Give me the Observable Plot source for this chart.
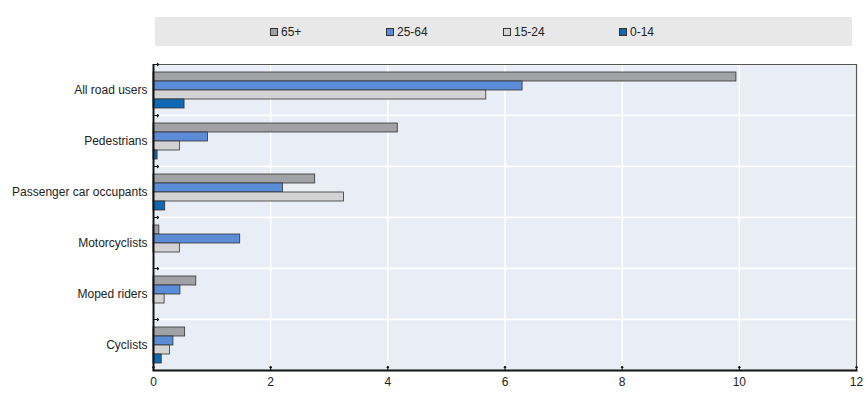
<!DOCTYPE html>
<html>
<head>
<meta charset="utf-8">
<script src="https://cdn.jsdelivr.net/npm/d3@7"></script>
<script src="https://cdn.jsdelivr.net/npm/@observablehq/plot@0.6"></script>
<style>
  html, body { margin: 0; padding: 0; background: #fff; }
  body { width: 866px; height: 405px; overflow: hidden; font-family: "Liberation Sans", Arial, sans-serif; }
  #legend { position: relative; margin-top: 17px; margin-left: 155px; width: 697px; height: 29px; background: #e8e8e9; }
  .item { position: absolute; top: 0; height: 29px; display: flex; align-items: center; font-size: 12px; color: #222; }
  .sw { width: 8px; height: 8px; border: 1px solid #333; box-sizing: border-box; margin-right: 3px; }
  svg { display: block; overflow: visible; }
  svg text { font-family: "Liberation Sans", Arial, sans-serif; }
</style>
</head>
<body>
<div id="legend"></div>
<div id="chart"></div>
<script>
const categories = ["All road users", "Pedestrians", "Passenger car occupants", "Motorcyclists", "Moped riders", "Cyclists"];
const ages = ["65+", "25-64", "15-24", "0-14"];
const values65plus = [9.95, 4.17, 2.76, 0.10, 0.73, 0.54];
const values25to64 = [6.30, 0.93, 2.21, 1.48, 0.46, 0.34];
const values15to24 = [5.68, 0.45, 3.25, 0.45, 0.19, 0.28];
const values0to14 = [0.53, 0.07, 0.20, 0, 0, 0.14];
const xTicks = [0, 2, 4, 6, 8, 10, 12];
const colors = ["#a1a2a6", "#5b8cd8", "#d3d3d4", "#0f69b4"];

const series = [values65plus, values25to64, values15to24, values0to14];
const data = [];
categories.forEach((c, i) => ages.forEach((a, j) => {
  if (series[j][i] > 0) data.push({category: c, age: a, value: series[j][i]});
}));

// legend
const legendLeft = [115, 231, 348, 464];
const legend = document.getElementById("legend");
ages.forEach((a, j) => {
  const it = document.createElement("div");
  it.className = "item";
  it.style.left = legendLeft[j] + "px";
  it.innerHTML = `<span class="sw" style="background:${colors[j]}"></span><span>${a}</span>`;
  legend.appendChild(it);
});

const chart = Plot.plot({
  width: 866,
  height: 359,
  marginLeft: 153,
  marginRight: 10,
  marginTop: 16,
  marginBottom: 34,
  style: {fontFamily: "'Liberation Sans', Arial, sans-serif", fontSize: "12px", color: "#222", background: "transparent"},
  x: {domain: [0, 12], ticks: xTicks, label: null},
  y: {domain: ages, paddingInner: 0, paddingOuter: 0.74, axis: null},
  fy: {domain: categories, padding: 0, label: null, axis: null},
  color: {domain: ages, range: colors},
  marks: [
    Plot.frame({fill: "#e9edf6", stroke: "white", strokeWidth: 1.5}),
    Plot.gridX(xTicks, {stroke: "white", strokeOpacity: 1, strokeWidth: 1.5}),
    Plot.barX(data, {x: "value", y: "age", fy: "category", fill: "age", stroke: "#333", strokeWidth: 0.8}),
    Plot.ruleX([12], {stroke: "#555", strokeWidth: 1.2}),
    Plot.frame({anchor: "top", stroke: "#555", strokeWidth: 1.2, facet: "super"}),
    Plot.ruleX([0], {stroke: "#111", strokeWidth: 2}),
    Plot.frame({anchor: "bottom", stroke: "#111", strokeWidth: 2, facet: "super"}),
    Plot.vector(categories, {fy: d => d, frameAnchor: "top-left", rotate: 90, length: 5, anchor: "start", stroke: "#111", strokeWidth: 1.2}),
    Plot.vector(xTicks, {x: d => d, fy: () => categories[categories.length - 1], frameAnchor: "bottom", rotate: 0, length: 4, anchor: "start", stroke: "#111", strokeWidth: 1.2}),
    Plot.axisX({ticks: xTicks, tickSize: 0, tickPadding: 7, label: null, fill: "#222", fontSize: 12}),
    Plot.axisFy({anchor: "left", tickSize: 0, tickPadding: 6, label: null, fill: "#222", fontSize: 12})
  ]
});
document.getElementById("chart").appendChild(chart);
</script>
</body>
</html>
